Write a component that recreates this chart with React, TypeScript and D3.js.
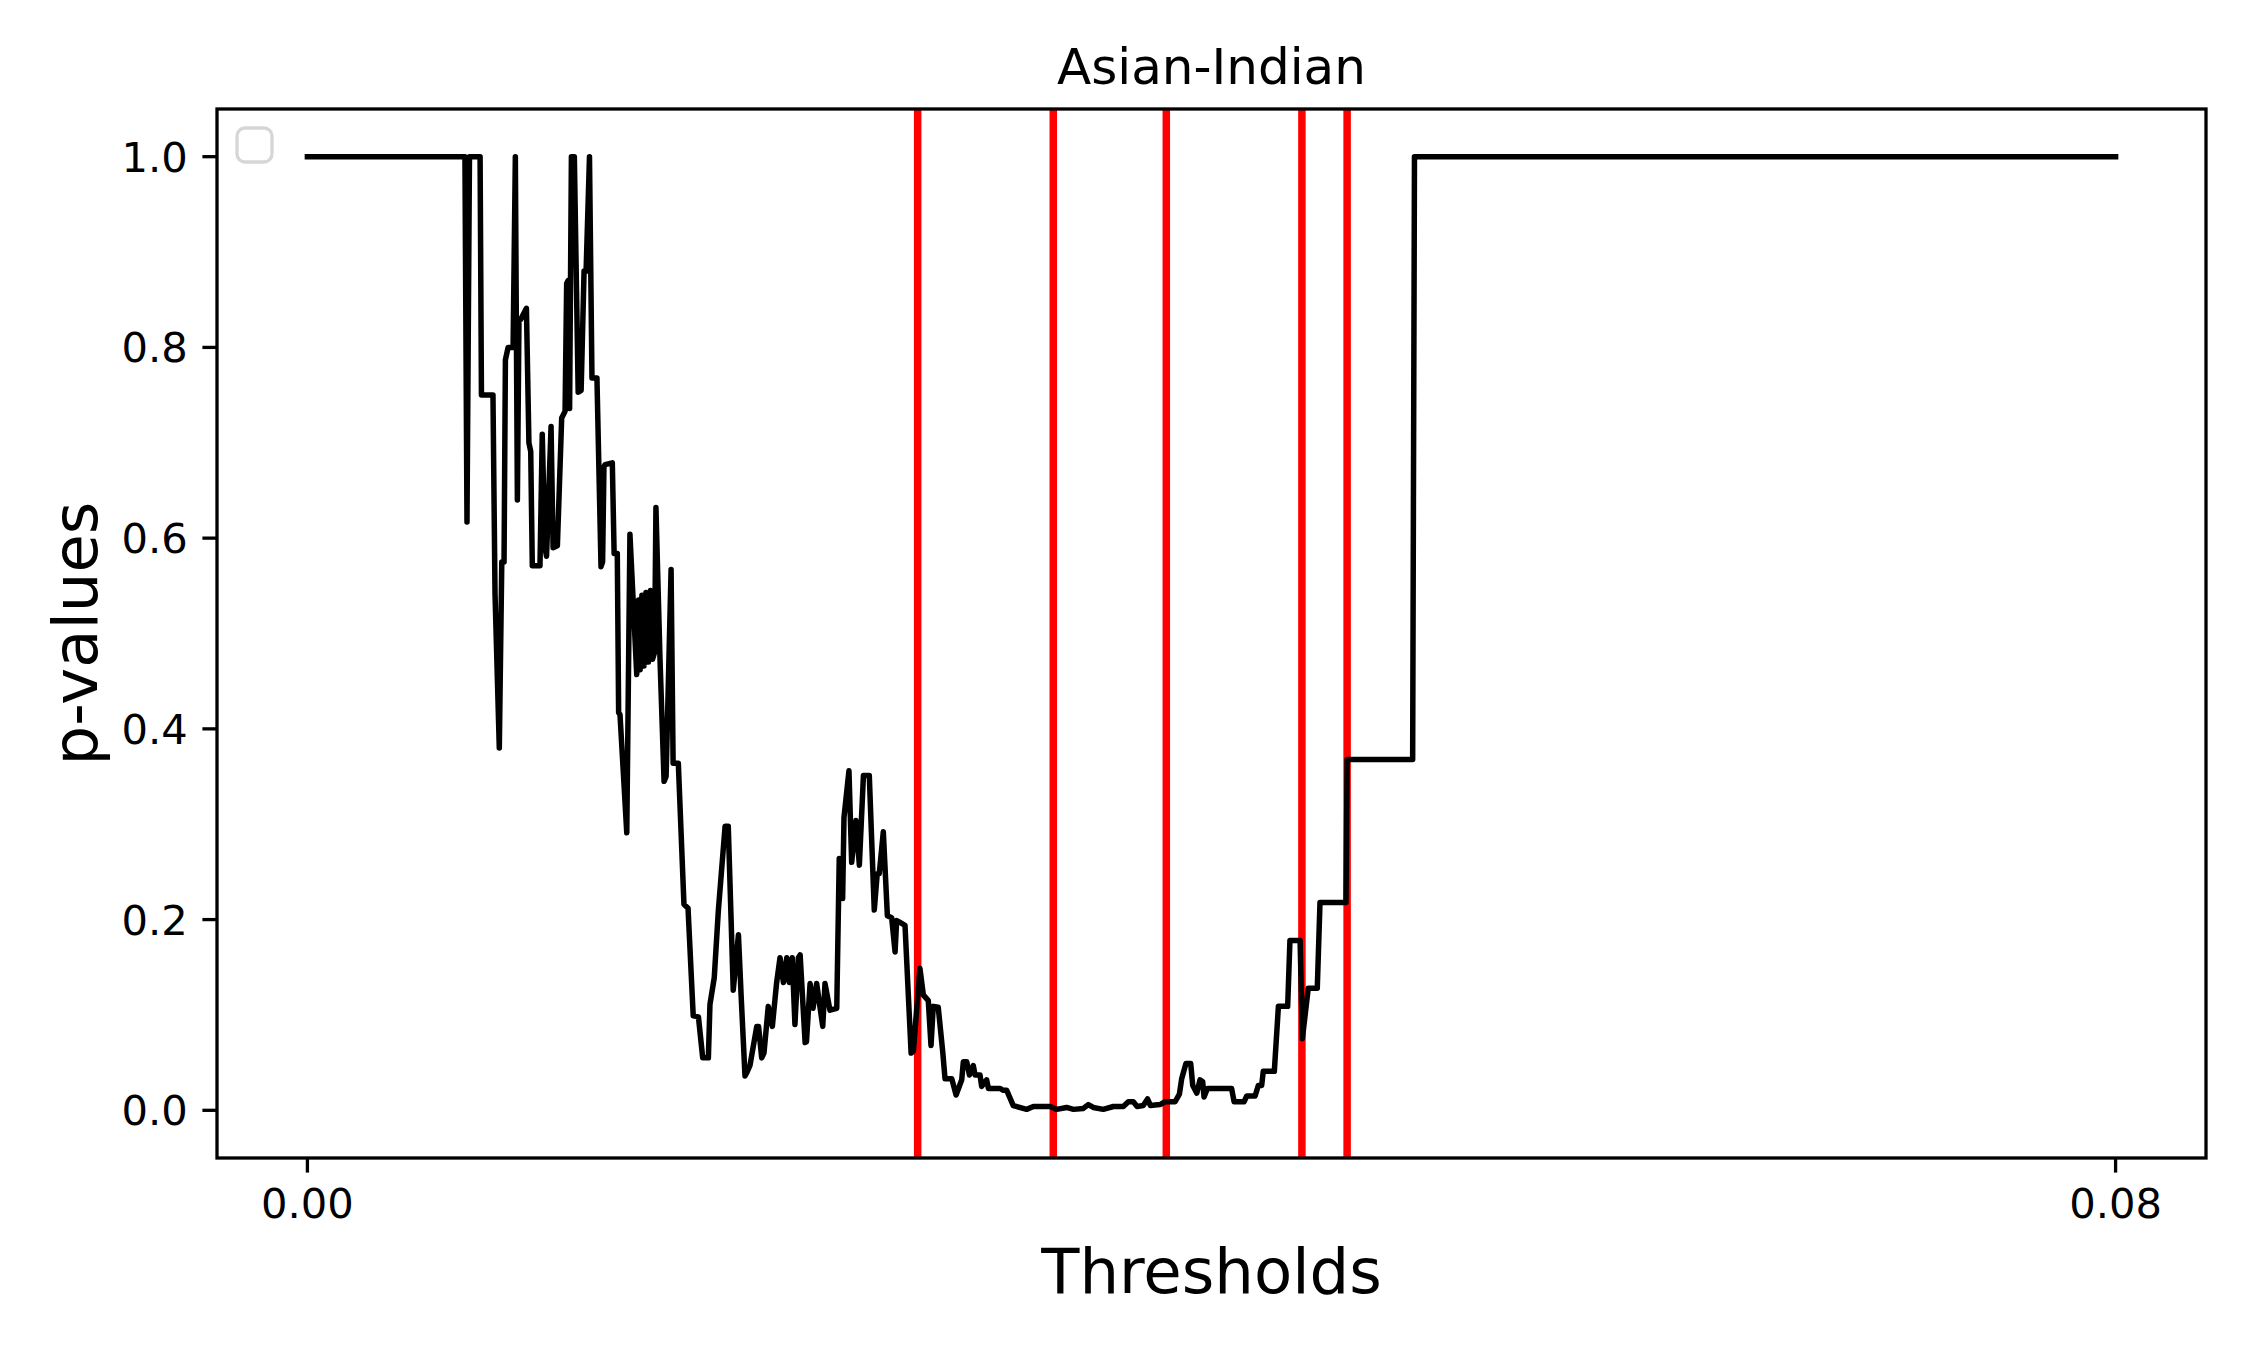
import React from "react";
import * as d3 from "d3";

// thresholds (x) and p-values (y)
const thresholds = [
  0, 0.00697, 0.00706, 0.00717, 0.00764, 0.0077, 0.00821, 0.0083, 0.00849, 0.0086,
  0.0087, 0.00876, 0.00888, 0.0091, 0.0092, 0.00929, 0.00936, 0.00943, 0.00969, 0.0098,
  0.00988, 0.00995, 0.01029, 0.01039, 0.01051, 0.01058, 0.01078, 0.01087, 0.01106, 0.01125,
  0.0114, 0.01147, 0.01153, 0.0116, 0.01168, 0.01181, 0.01198, 0.01211, 0.01224, 0.01233,
  0.01248, 0.01259, 0.01281, 0.01299, 0.01306, 0.01312, 0.01317, 0.01349, 0.01357, 0.01371,
  0.01377, 0.01383, 0.01413, 0.01427, 0.01457, 0.01465, 0.01472, 0.0148, 0.01489, 0.01498,
  0.01509, 0.01518, 0.01527, 0.01536, 0.01542, 0.0156, 0.01578, 0.01587, 0.01609, 0.01618,
  0.01641, 0.01666, 0.01684, 0.01707, 0.0173, 0.01749, 0.01774, 0.01781, 0.018, 0.01818,
  0.01848, 0.01862, 0.01884, 0.01907, 0.01919, 0.01936, 0.01945, 0.01958, 0.01988, 0.01996,
  0.0201, 0.0202, 0.02039, 0.02057, 0.02076, 0.02091, 0.02106, 0.02121, 0.02132, 0.02145,
  0.02157, 0.02172, 0.0218, 0.02202, 0.02208, 0.02224, 0.02237, 0.02253, 0.0228, 0.0229,
  0.02312, 0.02342, 0.02353, 0.02368, 0.02374, 0.02396, 0.02408, 0.02427, 0.02442, 0.0246,
  0.02486, 0.02508, 0.02521, 0.0253, 0.02548, 0.02566, 0.02585, 0.026, 0.02607, 0.02622,
  0.02644, 0.02671, 0.02681, 0.0271, 0.02725, 0.02747, 0.02759, 0.02769, 0.02791, 0.02811,
  0.02821, 0.02851, 0.0287, 0.02895, 0.02902, 0.02917, 0.02929, 0.02946, 0.02954, 0.02976,
  0.02983, 0.03005, 0.03013, 0.03064, 0.03079, 0.03094, 0.03123, 0.03182, 0.03212, 0.03286,
  0.03315, 0.03359, 0.03389, 0.03433, 0.03455, 0.03477, 0.03521, 0.03566, 0.0361, 0.03632,
  0.03654, 0.03671, 0.03698, 0.03717, 0.0373, 0.03772, 0.03795, 0.03839, 0.03858, 0.03868,
  0.03887, 0.03908, 0.03917, 0.03935, 0.03949, 0.03961, 0.03967, 0.03982, 0.04089, 0.041,
  0.04144, 0.04156, 0.04193, 0.04207, 0.04222, 0.04229, 0.04278, 0.04296, 0.04337, 0.04347,
  0.04392, 0.04402, 0.04428, 0.04468, 0.0448, 0.04595, 0.046, 0.0489, 0.04898, 0.08,
];

const pValues = [
  1.0, 1.0, 0.617, 1.0, 1.0, 0.75, 0.75, 0.542, 0.38, 0.575,
  0.575, 0.787, 0.8, 0.8, 1.0, 0.64, 0.829, 0.829, 0.841, 0.7,
  0.691, 0.571, 0.571, 0.709, 0.59, 0.581, 0.717, 0.59, 0.592, 0.726,
  0.733, 0.867, 0.87, 0.736, 1.0, 1.0, 0.753, 0.755, 0.88, 0.88,
  1.0, 0.768, 0.768, 0.57, 0.575, 0.675, 0.677, 0.679, 0.584, 0.584,
  0.417, 0.415, 0.291, 0.604, 0.457, 0.535, 0.462, 0.54, 0.466, 0.543,
  0.47, 0.545, 0.473, 0.48, 0.632, 0.473, 0.345, 0.35, 0.567, 0.364,
  0.364, 0.216, 0.212, 0.099, 0.098, 0.055, 0.055, 0.111, 0.139, 0.209,
  0.298, 0.298, 0.126, 0.184, 0.12, 0.036, 0.04, 0.047, 0.088, 0.088,
  0.055, 0.06, 0.109, 0.088, 0.134, 0.16, 0.134, 0.16, 0.134, 0.16,
  0.09, 0.16, 0.163, 0.071, 0.072, 0.133, 0.107, 0.133, 0.088, 0.133,
  0.105, 0.107, 0.264, 0.222, 0.307, 0.356, 0.26, 0.304, 0.257, 0.351,
  0.351, 0.21, 0.248, 0.248, 0.292, 0.204, 0.202, 0.166, 0.199, 0.197,
  0.194, 0.06, 0.062, 0.149, 0.121, 0.115, 0.068, 0.109, 0.108, 0.061,
  0.033, 0.033, 0.016, 0.032, 0.051, 0.051, 0.037, 0.047, 0.037, 0.037,
  0.025, 0.032, 0.023, 0.023, 0.021, 0.021, 0.005, 0.001, 0.004, 0.004,
  0.001, 0.003, 0.001, 0.002, 0.006, 0.003, 0.001, 0.004, 0.004, 0.009,
  0.009, 0.004, 0.005, 0.012, 0.005, 0.006, 0.009, 0.009, 0.017, 0.033,
  0.049, 0.049, 0.026, 0.018, 0.032, 0.03, 0.014, 0.023, 0.023, 0.009,
  0.009, 0.015, 0.015, 0.026, 0.026, 0.041, 0.041, 0.109, 0.109, 0.178,
  0.178, 0.075, 0.128, 0.128, 0.218, 0.218, 0.368, 0.368, 1.0, 1.0,
];

const cutoffs = [0.027, 0.033, 0.038, 0.044, 0.046];
const yTicks = [0, 0.2, 0.4, 0.6, 0.8, 1.0];
const xTicks = [0, 0.08];

const W = 2250;
const H = 1350;
const margin = { top: 109, right: 44, bottom: 192, left: 217 };
const FONT = "DejaVu Sans, sans-serif";

export default function App() {
  const iw = W - margin.left - margin.right;
  const ih = H - margin.top - margin.bottom;

  const x = d3.scaleLinear().domain([-0.004, 0.084]).range([0, iw]);
  const y = d3.scaleLinear().domain([-0.05, 1.05]).range([ih, 0]);

  const pts: [number, number][] = thresholds.map((t, i) => [t, pValues[i]]);
  const line = d3
    .line<[number, number]>()
    .x((d) => x(d[0]))
    .y((d) => y(d[1]));

  const tickLen = 14.6;

  return (
    <svg
      width={W}
      height={H}
      style={{ position: "absolute", left: 0, top: 0, background: "#fff" }}
    >
      <rect width={W} height={H} fill="#fff" />
      <text
        x={margin.left + iw / 2}
        y={84}
        textAnchor="middle"
        fontFamily={FONT}
        fontSize={50}
      >
        Asian-Indian
      </text>
      <g transform={`translate(${margin.left},${margin.top})`}>
        <clipPath id="plot">
          <rect width={iw} height={ih} />
        </clipPath>
        <g clipPath="url(#plot)">
          {cutoffs.map((c) => (
            <line
              key={c}
              x1={x(c)}
              x2={x(c)}
              y1={0}
              y2={ih}
              stroke="#ff0000"
              strokeWidth={7.5}
            />
          ))}
          <path
            d={line(pts) ?? ""}
            fill="none"
            stroke="#000"
            strokeWidth={5.5}
            strokeLinejoin="round"
            strokeLinecap="square"
          />
        </g>
        {/* empty legend box */}
        <rect
          x={20}
          y={19}
          width={35}
          height={34}
          rx={8}
          fill="#fff"
          stroke="#d6d6d6"
          strokeWidth={3.3}
        />
        <rect
          width={iw}
          height={ih}
          fill="none"
          stroke="#000"
          strokeWidth={3.3}
        />
        {yTicks.map((t) => (
          <g key={t} transform={`translate(0,${y(t)})`}>
            <line x1={-tickLen} x2={0} stroke="#000" strokeWidth={3.3} />
            <text
              x={-tickLen - 14.6}
              dy="0.36em"
              textAnchor="end"
              fontFamily={FONT}
              fontSize={41.67}
            >
              {t.toFixed(1)}
            </text>
          </g>
        ))}
        {xTicks.map((t) => (
          <g key={t} transform={`translate(${x(t)},${ih})`}>
            <line y1={0} y2={tickLen} stroke="#000" strokeWidth={3.3} />
            <text
              y={tickLen + 14.6 + 31}
              textAnchor="middle"
              fontFamily={FONT}
              fontSize={41.67}
            >
              {t.toFixed(2)}
            </text>
          </g>
        ))}
        <text
          x={iw / 2}
          y={1293 - margin.top}
          textAnchor="middle"
          fontFamily={FONT}
          fontSize={62.5}
        >
          Thresholds
        </text>
        <text
          transform={`translate(${97 - margin.left},${ih / 2}) rotate(-90)`}
          textAnchor="middle"
          fontFamily={FONT}
          fontSize={62.5}
        >
          p-values
        </text>
      </g>
    </svg>
  );
}
